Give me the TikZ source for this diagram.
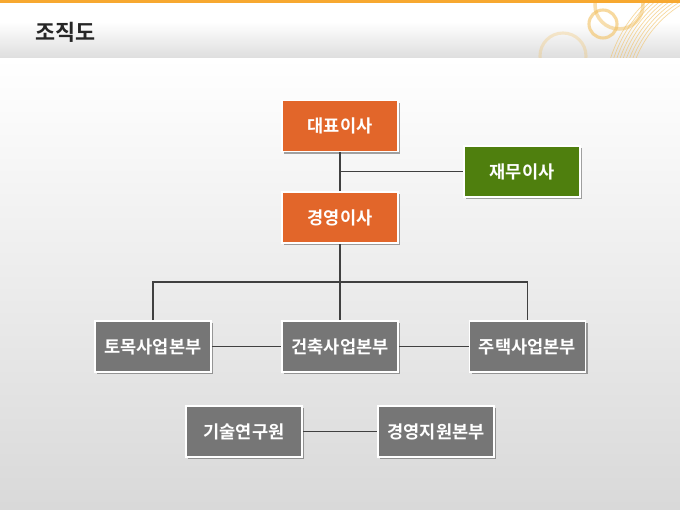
\documentclass[tikz,border=0pt]{standalone}
\usepackage{fontspec}
\newfontfamily\kr{Noto Sans CJK KR}[BoldFont={Noto Sans CJK KR Bold}]
\usepackage{tikz}
\usetikzlibrary{shadows}

\definecolor{orgbox}{HTML}{E2662A}
\definecolor{grnbox}{HTML}{4F7F0E}
\definecolor{grybox}{HTML}{767676}
\definecolor{topbar}{HTML}{F7A830}
\definecolor{ring}{HTML}{F2C060}

\begin{document}
\begin{tikzpicture}[x=0.025cm,y=-0.025cm,thick,
  box node/.style={rectangle,draw=white,line width=1.2pt,text=white,
    minimum width=2.9cm,minimum height=1.275cm,font=\kr\bfseries\fontsize{12.5}{14}\selectfont,
    drop shadow={shadow xshift=1.6pt,shadow yshift=-1.6pt,fill=black,opacity=.35}},
  boss node/.style={box node,fill=orgbox},
  side node/.style={box node,fill=grnbox},
  unit node/.style={box node,fill=grybox},
  link/.style={draw=black!75,line width=1.1pt}]

  \useasboundingbox (0,0) rectangle (680,510);

  % background and header
  \shade[top color=white,middle color=black!3,bottom color=black!15] (0,58) rectangle (680,510);
  \fill[white] (0,0) rectangle (680,58);
  \shade[top color=white,bottom color=black!13] (0,22) rectangle (680,58);
  \begin{scope}
    \clip (0,0) rectangle (680,58);
    \draw[ring,line width=2.5pt,opacity=.5] (619,5) circle (24);
    \draw[ring,line width=2.2pt,opacity=.6] (603,24) circle (14);
    \draw[ring,line width=2.2pt,opacity=.3] (563,56) circle (23);
    \foreach \r in {112,115,...,136}
      \draw[ring,line width=.5pt,opacity=.6] (740,100) ++(-165:\r) arc (-165:-118:\r);
  \end{scope}
  \fill[topbar] (0,0) rectangle (680,3.5);
  \node[anchor=west,font=\kr\bfseries\fontsize{15.5}{18}\selectfont,text=black!85] (title) at (30,32) {조직도};

  \node[boss node] (ceo) at (340,126) {대표이사};
  \node[side node] (cfo) at (522,171.5) {재무이사};
  \node[boss node] (coo) at (340,217.5) {경영이사};
  \node[unit node] (civil) at (153,346.5) {토목사업본부};
  \node[unit node] (build) at (340,346.5) {건축사업본부};
  \node[unit node] (house) at (527.5,346.5) {주택사업본부};
  \node[unit node] (rnd) at (244,431.5) {기술연구원};
  \node[unit node] (mgmt) at (436,431.5) {경영지원본부};

  \coordinate (j1) at (ceo.south |- cfo.west);
  \coordinate (bus) at (340,282);

  \path[link] (ceo.south) -- (coo.north);
  \path[link] (j1) -- (cfo.west);
  \path[link] (coo.south) -- (bus);
  \path[link] (civil.north) |- (bus) -| (house.north);
  \path[link] (bus) -- (build.north);
  \path[link] (civil) edge (build)
              (build) edge (house)
              (rnd) edge (mgmt);

\end{tikzpicture}
\end{document}
